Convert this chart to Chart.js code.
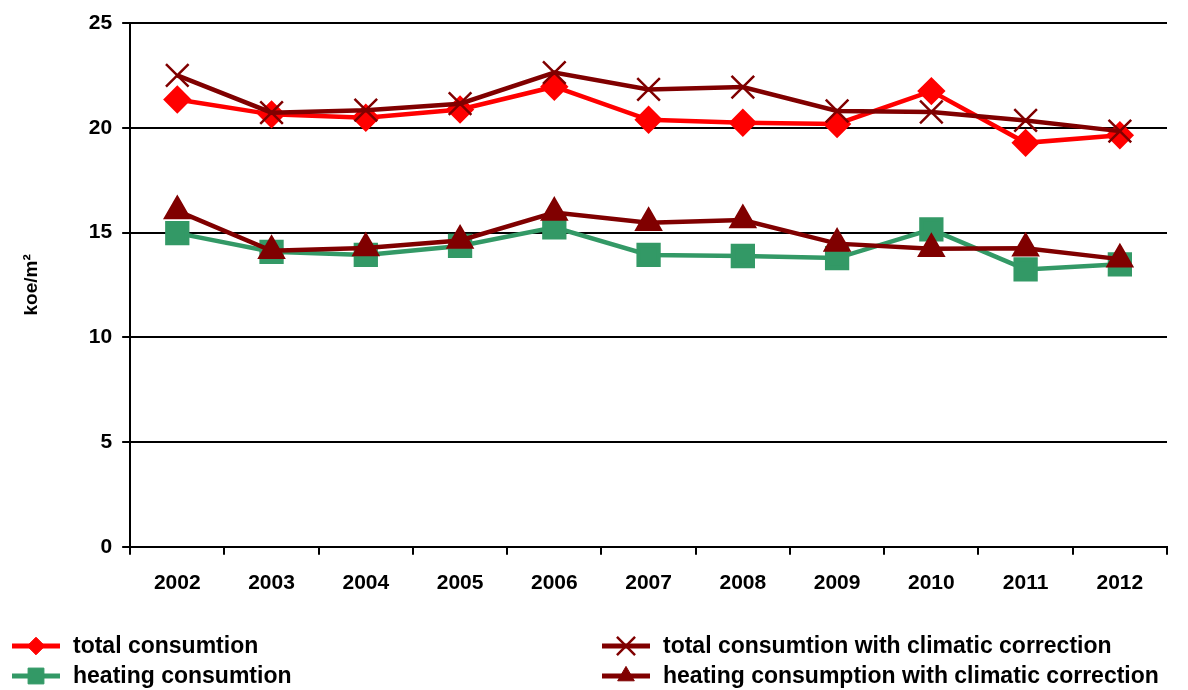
<!DOCTYPE html>
<html>
<head>
<meta charset="utf-8">
<script src="https://cdn.jsdelivr.net/npm/chart.js@4/dist/chart.umd.min.js"></script>
<style>
  html, body { margin: 0; padding: 0; background: #fff; }
  #wrap { width: 1188px; height: 690px; position: relative; }
</style>
</head>
<body>
<div id="wrap"><canvas id="chart"></canvas></div>
<script>
const years = ['2002','2003','2004','2005','2006','2007','2008','2009','2010','2011','2012'];
const totalCons = [21.35, 20.64, 20.48, 20.87, 21.96, 20.38, 20.24, 20.18, 21.75, 19.28, 19.64];
const totalCorr = [22.5, 20.72, 20.84, 21.15, 22.63, 21.83, 21.94, 20.8, 20.75, 20.35, 19.84];
const heatCons = [14.97, 14.08, 13.93, 14.36, 15.25, 13.93, 13.88, 13.78, 15.15, 13.24, 13.48];
const heatCorr = [16.03, 14.13, 14.26, 14.62, 15.95, 15.47, 15.6, 14.47, 14.23, 14.25, 13.73];
const yTicks = [0, 5, 10, 15, 20, 25];

const FONT = 'Liberation Sans, Arial, sans-serif';

// legend drawn in two columns under the plot, like the original
const legendPlugin = {
  id: 'twoColLegend',
  afterDraw(chart) {
    const ctx = chart.ctx;
    const order = [0, 2, 1, 3];
    const cols = [12, 602];
    const rows = [646, 676];
    order.forEach((di, i) => {
      const ds = chart.data.datasets[di];
      const x = cols[Math.floor(i / 2)];
      const y = rows[i % 2];
      ctx.save();
      ctx.strokeStyle = ds.borderColor;
      ctx.lineWidth = 5;
      ctx.beginPath();
      ctx.moveTo(x, y);
      ctx.lineTo(x + 48, y);
      ctx.stroke();
      ctx.fillStyle = ds.borderColor;
      ctx.lineWidth = ds.pointBorderWidth || 1;
      Chart.helpers.drawPoint(ctx, {
        pointStyle: ds.pointStyle,
        radius: ds.legendRadius,
        borderWidth: ds.pointBorderWidth || 1
      }, x + 24, y);
      ctx.fillStyle = '#000';
      ctx.font = 'bold 23px ' + FONT;
      ctx.textBaseline = 'middle';
      ctx.fillText(ds.label, x + 61, y + 1);
      ctx.restore();
    });
  }
};

function series(label, data, color, style, radius, drawOrder, extra) {
  return Object.assign({
    label, data,
    order: drawOrder,
    borderColor: color,
    backgroundColor: color,
    pointBackgroundColor: color,
    pointBorderColor: color,
    borderWidth: 4.5,
    pointStyle: style,
    pointRadius: radius,
    pointHoverRadius: radius,
    legendRadius: radius * 0.8,
    tension: 0
  }, extra || {});
}

new Chart(document.getElementById('chart'), {
  type: 'line',
  data: {
    labels: years,
    datasets: [
      series('total consumtion', totalCons, '#FF0000', 'rectRot', 11, 4),
      series('total consumtion with climatic correction', totalCorr, '#800000', 'crossRot', 16, 2, { pointBorderWidth: 2.5 }),
      series('heating consumtion', heatCons, '#339966', 'rect', 14, 3),
      series('heating consumption with climatic correction', heatCorr, '#800000', 'triangle', 12, 1)
    ]
  },
  options: {
    responsive: true,
    maintainAspectRatio: false,
    animation: false,
    layout: { padding: { top: 23, right: 21, bottom: 78, left: 16 } },
    plugins: { legend: { display: false }, tooltip: { enabled: false } },
    scales: {
      x: {
        offset: true,
        grid: { display: true, drawOnChartArea: false, offset: true, color: '#000', lineWidth: 2, tickLength: 8 },
        border: { color: '#000', width: 2 },
        ticks: { color: '#000', font: { family: FONT, size: 21, weight: 'bold' }, padding: 16 }
      },
      y: {
        min: 0, max: 25,
        afterBuildTicks(axis) { axis.ticks = yTicks.map(v => ({ value: v })); },
        grid: { color: '#000', lineWidth: 2, tickLength: 8 },
        border: { color: '#000', width: 2 },
        ticks: { color: '#000', font: { family: FONT, size: 21, weight: 'bold' }, padding: 10 },
        title: { display: true, text: 'koe/m²', color: '#000', font: { family: FONT, size: 19, weight: 'bold' }, padding: { bottom: 36 } }
      }
    }
  },
  plugins: [legendPlugin]
});
</script>
</body>
</html>
